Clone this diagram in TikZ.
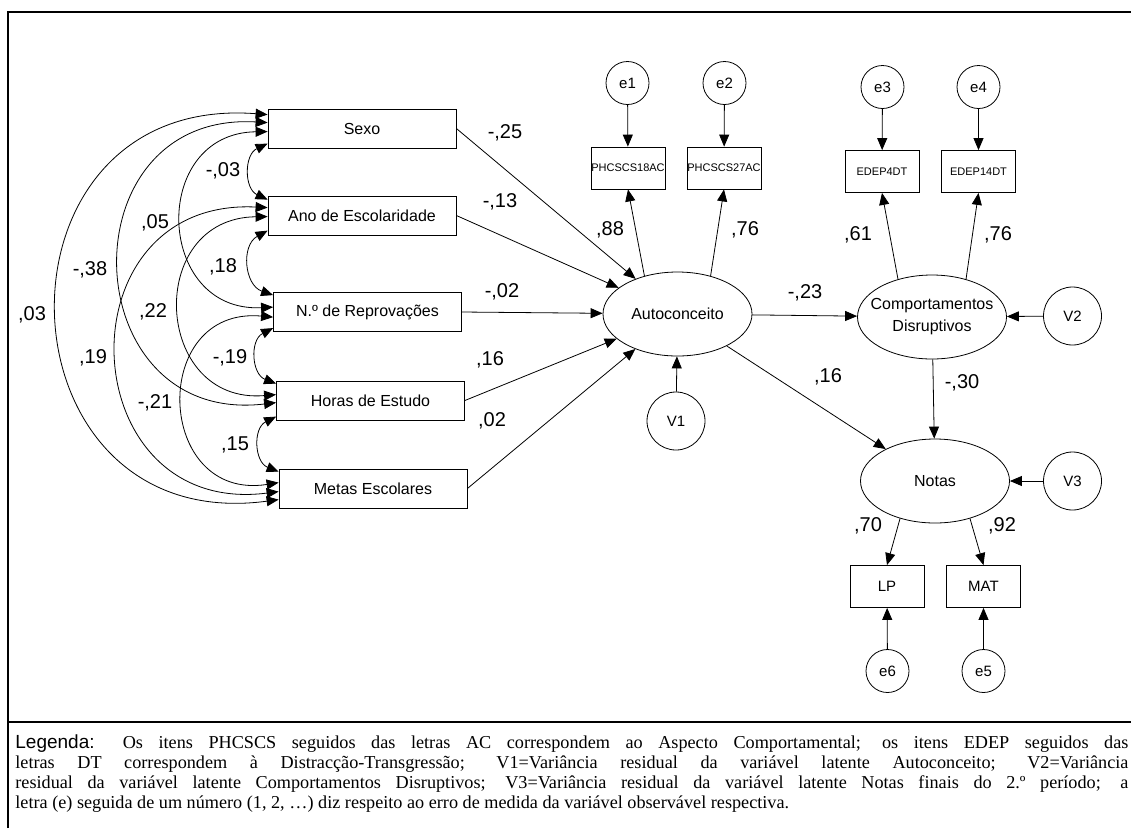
\documentclass[tikz,border=0pt]{standalone}
\usepackage{fontspec}
\setmainfont{Liberation Sans}
\newfontfamily\timesfont{Liberation Serif}
\usepackage{tikz}
\usetikzlibrary{calc,shapes.geometric,arrows.meta,positioning}
\tikzset{
    obs var/.style={
        draw,
        minimum width=188pt,minimum height=39pt,inner sep=0pt,
        font=\fontsize{16}{19}\selectfont
    },
    item var/.style={
        draw,
        minimum width=74pt,minimum height=42pt,inner sep=0pt,
        font=\fontsize{11}{13}\selectfont
    },
    latent var/.style={
        ellipse,draw,
        minimum width=149pt,minimum height=84pt,inner sep=0pt,
        font=\fontsize{16}{22}\selectfont
    },
    error var/.style={
        circle,draw,minimum size=43pt,inner sep=0pt,
        font=\fontsize{15}{18}\selectfont
    },
    residual var/.style={
        circle,draw,minimum size=58pt,inner sep=0pt,
        font=\fontsize{15}{18}\selectfont
    },
    coef/.style={inner sep=0pt,font=\fontsize{20}{24}\selectfont},
    >={Triangle[length=12pt,width=10pt]}
}
\begin{document}
\begin{tikzpicture}[x=1pt,y=-1pt,line width=0.8pt]
\useasboundingbox (0,0) rectangle (1131,828);
\draw[line width=2pt] (8,828) -- (8,12) -- (1131,12);
\draw[line width=2pt] (8,722) -- (1131,722);

\node[obs var] (sexo) at (362,128.5) {Sexo};
\node[obs var] (ano) at (362,215.5) {Ano de Escolaridade};
\node[obs var] (reprov) at (367.5,312) {N.º de Reprovações};
\node[obs var] (horas) at (370.5,400.5) {Horas de Estudo};
\node[obs var] (metas) at (373,488.5) {Metas Escolares};

\node[latent var] (auto) at (677.5,314) {Autoconceito};
\node[latent var,label={[align=center,font=\fontsize{16}{22}\selectfont]center:Comportamentos\\Disruptivos}] (comp) at (932,317) {};
\node[latent var] (notas) at (935,481) {Notas};

\node[item var] (ac18) at (628,168) {PHCSCS18AC};
\node[item var] (ac27) at (724,168) {PHCSCS27AC};
\node[item var] (dt4) at (882,171.5) {EDEP4DT};
\node[item var] (dt14) at (978.5,171.5) {EDEP14DT};
\node[item var,font=\fontsize{15}{18}\selectfont] (lp) at (887,586.5) {LP};
\node[item var,font=\fontsize{15}{18}\selectfont] (mat) at (983.5,586.5) {MAT};

\node[error var] (e1) at (627.5,83) {e1};
\node[error var] (e2) at (724.5,83) {e2};
\node[error var] (e3) at (882.5,87) {e3};
\node[error var] (e4) at (978.5,87) {e4};
\node[error var] (e6) at (887.5,671) {e6};
\node[error var] (e5) at (983.5,671) {e5};

\node[residual var] (v1) at (676,421) {V1};
\node[residual var] (v2) at (1072.5,316) {V2};
\node[residual var] (v3) at (1072.5,481) {V3};

\foreach \a/\ya/\b/\yb/\bend/\loose in {
    sexo/6/metas/31/96/1.92,
    sexo/14/horas/22/95/1.86,
    sexo/23/reprov/15/91/1.72,
    ano/12/metas/23/95/1.88,
    ano/21/horas/14/92/1.77,
    reprov/25/metas/14/97/1.93,
    sexo/35/ano/4/65/1.19,
    ano/35/reprov/3/66/1.21,
    reprov/36/horas/3/66/1.21,
    horas/36/metas/3/66/1.21}
    \draw[<->] ($(\a.north west)+(0,\ya)$) to[bend right=\bend,looseness=\loose] ($(\b.north west)+(0,\yb)$);

\foreach \n in {sexo,ano,reprov,horas,metas}
    \draw[->] (\n.east) -- (auto);

\draw[->] (auto.131) -- (ac18.south);
\draw[->] (auto.49) -- (ac27.south);
\draw[->] (comp.132) -- (dt4.south);
\draw[->] (comp.48) -- (dt14.south);
\draw[->] (notas.227) -- (lp.north);
\draw[->] (notas.313) -- (mat.north);
\draw[->] (auto) -- (comp);
\draw[->] (auto) -- (notas);
\draw[->] (comp) -- (notas);
\draw[->] (e1) -- (ac18);
\draw[->] (e2) -- (ac27);
\draw[->] (e3) -- (dt4);
\draw[->] (e4) -- (dt14);
\draw[->] (e6) -- (lp);
\draw[->] (e5) -- (mat);
\draw[->] (v1) -- (auto);
\draw[->] (v2) -- (comp);
\draw[->] (v3) -- (notas);

\foreach \pos/\txt [count=\i] in {
    (32,315)/{,03},(90,270)/{-,38},(155,223)/{,05},(153,312)/{,22},
    (93,358)/{,19},(155,403)/{-,21},(223,171)/{-,03},(223,267)/{,18},
    (230,358)/{-,19},(235,445)/{,15},
    (505,133)/{-,25},(500,202)/{-,13},(502,292)/{-,02},(490,360)/{,16},(492,421)/{,02},
    (610,230)/{,88},(745,230)/{,76},(858,235)/{,61},(998,235)/{,76},
    (805,293)/{-,23},(828,377)/{,16},(962,383)/{-,30},(868,526)/{,70},(1002,526)/{,92}}
    \node[coef] (coef_\i) at \pos {\txt};

\node[anchor=north west,inner sep=0pt,text width=1113pt,align=justify,
      font=\timesfont\fontsize{18.2}{20}\selectfont] (legenda) at (15,734)
    {{\rmfamily\fontsize{19}{20}\selectfont Legenda:} Os itens PHCSCS seguidos das letras AC correspondem ao Aspecto Comportamental; os itens EDEP seguidos das\linebreak
    letras DT correspondem à Distracção-Transgressão; V1=Variância residual da variável latente Autoconceito; V2=Variância\linebreak
    residual da variável latente Comportamentos Disruptivos; V3=Variância residual da variável latente Notas finais do 2.º período; a\linebreak
    letra (e) seguida de um número (1, 2, …) diz respeito ao erro de medida da variável observável respectiva.};
\end{tikzpicture}
\end{document}
